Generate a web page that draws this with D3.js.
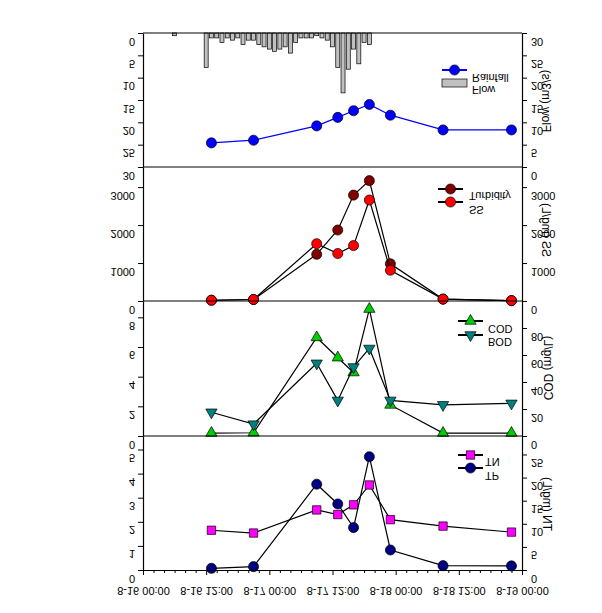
<!DOCTYPE html>
<html><head><meta charset="utf-8">
<script src="https://cdn.jsdelivr.net/npm/d3@7/dist/d3.min.js"></script>
<style>body{margin:0;background:#fff}svg{display:block}</style>
</head><body><svg id="c" width="602" height="613"></svg>
<script>
// ---- data ----
const sampleTimes = ["8-16 13:00","8-16 21:00","8-17 09:00","8-17 13:00","8-17 16:00","8-17 19:00","8-17 23:00","8-18 09:00","8-18 22:00"];
const flow      = [5.4, 6.0, 9.2, 11.1, 12.6, 14.0, 11.6, 8.3, 8.3];
const turbidity = [20, 40, 1230, 1870, 2790, 3170, 980, 50, 10];
const ss        = [20, 40, 1510, 1250, 1460, 2660, 810, 50, 10];
const cod       = [2.2, 2.4, 73, 58, 47, 94, 23, 2.2, 2.2];
const bod       = [1.6, 0.8, 4.9, 2.4, 4.65, 5.9, 2.4, 2.1, 2.2];
const tn        = [8.6, 8.0, 13.0, 12.0, 14.1, 18.4, 10.9, 9.5, 8.2];
const tp        = [0.07, 0.14, 3.56, 2.74, 1.76, 4.70, 0.83, 0.18, 0.17];
const rainTimes = ["8-16 06:00","8-16 12:00","8-16 13:00","8-16 14:00","8-16 15:00","8-16 16:00","8-16 17:00","8-16 18:00","8-16 19:00","8-16 20:00","8-16 21:00","8-16 22:00","8-16 23:00",
  "8-17 00:00","8-17 01:00","8-17 02:00","8-17 03:00","8-17 04:00","8-17 05:00","8-17 06:00","8-17 07:00","8-17 08:00","8-17 09:00","8-17 10:00","8-17 11:00","8-17 12:00","8-17 13:00","8-17 14:00","8-17 15:00","8-17 16:00","8-17 17:00","8-17 18:00","8-17 19:00"];
const rainfall  = [0.6, 7.7, 1.1, 1.1, 2.1, 1.1, 1.6, 1.1, 2.6, 1.6, 1.6, 2.6, 3.1,
  3.6, 4.1, 3.6, 3.1, 4.5, 2.1, 1.1, 1.1, 1.1, 0.6, 1.1, 1.6, 3.1, 7.7, 13.4, 8.1, 3.6, 6.9, 2.1, 2.6];
const xMajorLabels = ["8-16 00:00","8-16 12:00","8-17 00:00","8-17 12:00","8-18 00:00","8-18 12:00","8-19 00:00"];
const ticksRain = [0,5,10,15,20,25,30];
const ticksFlow = [0,5,10,15,20,25,30];
const ticksTurb = [0,1000,2000,3000];
const ticksSS   = [0,1000,2000,3000];
const ticksBOD  = [0,2,4,6,8];
const ticksCOD  = [0,20,40,60,80];
const ticksTP   = [0,1,2,3,4,5];
const ticksTN   = [0,5,10,15,20,25];

// ---- helpers ----
function hrs(s){ const m = s.match(/(\d+)-(\d+) (\d+):(\d+)/); return (+m[2]-16)*24 + (+m[3]) + (+m[4])/60; }
const svg = d3.select("#c");
const FONT = "'Liberation Sans', Arial, sans-serif";
const L = 143, R = 522;
const x = d3.scaleLinear().domain([0, 72]).range([L, R]);
const panels = [ [33,167], [167,301], [301,436], [436,570] ];

function ftext(g, px, py, str, anchor, rot, size){
  return g.append("text")
    .attr("transform", `translate(${px},${py}) rotate(${rot||0}) scale(1,-1)`)
    .attr("text-anchor", anchor||"start")
    .attr("font-family", FONT).attr("font-size", size||11).attr("fill","#000")
    .text(str);
}
function styleAxis(g, side){
  g.select(".domain").attr("stroke","#000").attr("stroke-width",1.2);
  g.selectAll(".tick line").attr("stroke","#000").attr("stroke-width",1);
  g.selectAll(".tick text").each(function(){
    const t = d3.select(this);
    t.attr("x",0).attr("y",0).attr("dy",null)
     .attr("font-family",FONT).attr("font-size",11).attr("fill","#000");
    if(side==="left") t.attr("transform","translate(-8,4) scale(1,-1)").attr("text-anchor","end");
    else if(side==="right") t.attr("transform","translate(9,4) scale(1,-1)").attr("text-anchor","start");
    else t.attr("transform","translate(0,17) scale(1,-1)").attr("text-anchor","middle");
  });
}
function yAxes(yl, yr, tl, tr){
  const gl = svg.append("g").attr("transform",`translate(${L},0)`)
    .call(d3.axisLeft(yl).tickValues(tl).tickSize(5).tickSizeOuter(0).tickFormat(d3.format("d")));
  styleAxis(gl,"left");
  const gr = svg.append("g").attr("transform",`translate(${R},0)`)
    .call(d3.axisRight(yr).tickValues(tr).tickSize(5).tickSizeOuter(0).tickFormat(d3.format("d")));
  styleAxis(gr,"right");
}
function series(vals, yScale, color, lineColor, shape, size){
  const pts = sampleTimes.map((t,i)=>[x(hrs(t)), yScale(vals[i])]);
  svg.append("path").attr("d", d3.line()(pts)).attr("fill","none")
    .attr("stroke", lineColor).attr("stroke-width",1.2);
  svg.append("g").selectAll("path").data(pts).join("path")
    .attr("transform", d=>`translate(${d[0]},${d[1]})`)
    .attr("d", d3.symbol().type(shape).size(size))
    .attr("fill", color).attr("stroke","#000").attr("stroke-width",0.7);
}
function legendLine(x0, x1, y, color, lineColor, shape, size){
  svg.append("line").attr("x1",x0).attr("x2",x1).attr("y1",y).attr("y2",y)
    .attr("stroke",lineColor).attr("stroke-width",2);
  svg.append("path").attr("transform",`translate(${(x0+x1)/2},${y})`)
    .attr("d", d3.symbol().type(shape).size(size))
    .attr("fill",color).attr("stroke","#000").attr("stroke-width",0.7);
}
const downTri = { draw(ctx, size){ const s=Math.sqrt(size*4/Math.sqrt(3)); const h=s*Math.sqrt(3)/2;
  ctx.moveTo(-s/2,-h/3); ctx.lineTo(s/2,-h/3); ctx.lineTo(0,2*h/3); ctx.closePath(); } };

// ---- panel 1: rainfall + flow ----
const yRain = d3.scaleLinear().domain([0,30]).range([33,167]);
const yFlow = d3.scaleLinear().domain([0,30]).range([167,33]);
svg.append("g").selectAll("rect").data(rainTimes).join("rect")
  .attr("x", (t)=>x(hrs(t))-2).attr("width",4)
  .attr("y", yRain(0)).attr("height",(t,i)=>yRain(rainfall[i])-yRain(0))
  .attr("fill","#c0c0c0").attr("stroke","#000").attr("stroke-width",0.7);
series(flow, yFlow, "#0000ff", "#0000ff", d3.symbolCircle, 80);
yAxes(yRain, yFlow, ticksRain, ticksFlow);

// ---- panel 2 ----
const yTurb = d3.scaleLinear().domain([0,3530]).range([301,167]);
const ySS   = d3.scaleLinear().domain([0,3530]).range([301,167]);
series(turbidity, yTurb, "#800000", "#000", d3.symbolCircle, 80);
series(ss, ySS, "#ff0000", "#000", d3.symbolCircle, 80);
yAxes(yTurb, ySS, ticksTurb, ticksSS);

// ---- panel 3 ----
const yBOD = d3.scaleLinear().domain([0,9.1]).range([436,301]);
const yCOD = d3.scaleLinear().domain([0,100]).range([436,301]);
series(cod, yCOD, "#00cc00", "#000", d3.symbolTriangle, 55);
series(bod, yBOD, "#008080", "#000", downTri, 55);
yAxes(yBOD, yCOD, ticksBOD, ticksCOD);

// ---- panel 4 ----
const yTP = d3.scaleLinear().domain([0,5.56]).range([570,436]);
const yTN = d3.scaleLinear().domain([0,29]).range([570,436]);
series(tn, yTN, "#ff00ff", "#000", d3.symbolSquare, 70);
series(tp, yTP, "#000080", "#000", d3.symbolCircle, 80);
yAxes(yTP, yTN, ticksTP, ticksTN);

// ---- panel separators / frame top ----
panels.forEach(p=>{
  svg.append("line").attr("x1",L).attr("x2",R).attr("y1",p[0]).attr("y2",p[0])
    .attr("stroke","#000").attr("stroke-width",1.2);
});

// ---- x axis ----
const majors = xMajorLabels.map(hrs);
const minors = d3.range(0, 73, 2).filter(h=>h%12!==0);
const gxm = svg.append("g").attr("transform",`translate(0,570)`)
  .call(d3.axisBottom(x).tickValues(minors).tickSize(3).tickSizeOuter(0).tickFormat(""));
gxm.select(".domain").remove();
gxm.selectAll(".tick line").attr("stroke","#000");
const gx = svg.append("g").attr("transform",`translate(0,570)`)
  .call(d3.axisBottom(x).tickValues(majors).tickSize(5).tickSizeOuter(0).tickFormat((d,i)=>xMajorLabels[i]));
styleAxis(gx,"bottom");

// ---- legends ----
legendLine(442, 467, 70, "#0000ff", "#0000ff", d3.symbolCircle, 80);
svg.append("rect").attr("x",442).attr("y",79).attr("width",25).attr("height",8)
  .attr("fill","#c0c0c0").attr("stroke","#000").attr("stroke-width",0.7);
ftext(svg, 472, 74, "Rainfall");
ftext(svg, 472, 86, "Flow");

legendLine(438, 463, 189, "#800000", "#000", d3.symbolCircle, 80);
legendLine(438, 463, 202, "#ff0000", "#000", d3.symbolCircle, 80);
ftext(svg, 469, 192, "Turbidity");
ftext(svg, 469, 206, "SS");

legendLine(458, 483, 321, "#00cc00", "#000", d3.symbolTriangle, 55);
legendLine(458, 483, 335, "#008080", "#000", downTri, 55);
ftext(svg, 488, 325, "COD");
ftext(svg, 488, 338, "BOD");

legendLine(458, 483, 455, "#ff00ff", "#000", d3.symbolSquare, 70);
legendLine(458, 483, 468, "#000080", "#000", d3.symbolCircle, 80);
ftext(svg, 485, 458, "TN");
ftext(svg, 485, 472, "TP");

// ---- right axis titles ----
ftext(svg, 542, 101, "Flow (m3/s)", "middle", -90, 12);
ftext(svg, 542, 230, "SS (mg/L)", "middle", -90, 12);
ftext(svg, 544, 368, "COD (mg/L)", "middle", -90, 12);
ftext(svg, 543, 504, "TN (mg/L)", "middle", -90, 12);
</script></body></html>
